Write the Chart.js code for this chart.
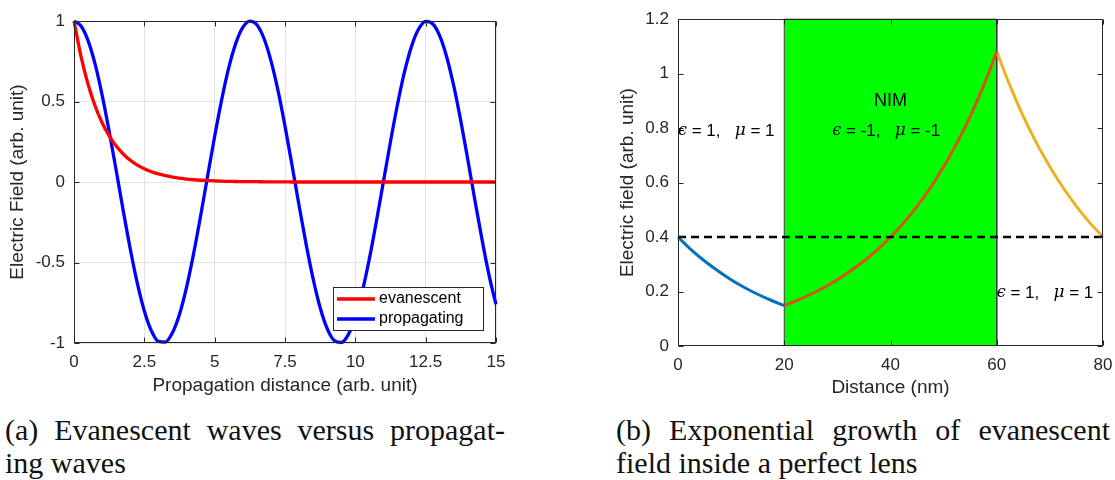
<!DOCTYPE html>
<html>
<head>
<meta charset="utf-8">
<title>Evanescent fields</title>
<script src="https://cdn.jsdelivr.net/npm/chart.js@4.4.1/dist/chart.umd.min.js"></script>
<style>
  body { margin: 0; background: #fff; width: 1115px; height: 480px; position: relative; overflow: hidden; }
  #waveChart { position: absolute; left: 0; top: 0; }
  #lensChart { position: absolute; left: 590px; top: 0; }
  .cap { position: absolute; font-family: "Liberation Serif", "Times New Roman", serif; font-size: 30px;
         line-height: 33px; color: #111; white-space: nowrap; }
  .cap.full { white-space: normal; text-align: justify; text-align-last: justify; }
</style>
</head>
<body>
<canvas id="waveChart" width="520" height="400"></canvas>
<canvas id="lensChart" width="540" height="400"></canvas>
<div class="cap full" style="left:5px; top:413px; width:500px">(a) Evanescent waves versus propagat-</div>
<div class="cap" style="left:5px; top:446px">ing waves</div>
<div class="cap full" style="left:616px; top:413px; width:494px">(b) Exponential growth of evanescent</div>
<div class="cap" style="left:616px; top:446px">field inside a perfect lens</div>
<script>
// ---- (a) evanescent vs propagating, sampled every 0.25 units ----
const distA = Array.from({ length: 61 }, (_, i) => i * 0.25)
const evanescent = [
  1.000, 0.779, 0.607, 0.472, 0.368, 0.287, 0.223, 0.174, 0.135, 0.105, 0.082, 0.064, 0.050, 0.039, 0.030, 0.024,
  0.018, 0.014, 0.011, 0.009, 0.007, 0.005, 0.004, 0.003, 0.002, 0.002, 0.002, 0.001, 0.001, 0.001, 0.001,
  0, 0, 0, 0, 0, 0, 0, 0, 0, 0, 0, 0, 0, 0, 0, 0, 0, 0, 0, 0, 0, 0, 0, 0, 0, 0, 0, 0, 0, 0
]
const propagating = [
  1.000, 0.969, 0.878, 0.732, 0.540, 0.315, 0.071, -0.178, -0.416, -0.628, -0.801, -0.924, -0.990, -0.994, -0.936, -0.821,
  -0.654, -0.446, -0.211, 0.038, 0.284, 0.512, 0.709, 0.861, 0.960, 0.999, 0.977, 0.893, 0.754, 0.569, 0.347, 0.104,
  -0.146, -0.386, -0.602, -0.781, -0.911, -0.985, -0.997, -0.948, -0.839, -0.678, -0.476, -0.243, 0.004, 0.252, 0.483, 0.685,
  0.844, 0.950, 0.998, 0.983, 0.907, 0.775, 0.595, 0.378, 0.137, -0.113, -0.355, -0.577, -0.760
]
const xTicksA = [0, 2.5, 5, 7.5, 10, 12.5, 15]
const yTicksA = [-1, -0.5, 0, 0.5, 1]

// ---- (b) field through a perfect lens (nm) ----
const leftX = [0, 2.5, 5, 7.5, 10, 12.5, 15, 17.5, 20]
const leftField = [0.400, 0.353, 0.312, 0.276, 0.243, 0.215, 0.190, 0.168, 0.148]
const nimX = [20, 22.5, 25, 27.5, 30, 32.5, 35, 37.5, 40, 42.5, 45, 47.5, 50, 52.5, 55, 57.5, 60]
const nimField = [0.148, 0.168, 0.190, 0.215, 0.243, 0.276, 0.312, 0.353, 0.400, 0.453, 0.513, 0.581,
  0.658, 0.745, 0.843, 0.955, 1.081]
const rightX = [60, 62.5, 65, 67.5, 70, 72.5, 75, 77.5, 80]
const rightField = [1.081, 0.955, 0.843, 0.745, 0.658, 0.581, 0.513, 0.453, 0.400]
const slabX = [20, 20, 60, 60]
const slabY = [0, 1.2, 1.2, 0]
const refX = [0, 80]
const refY = [0.4, 0.4]
const xTicksB = [0, 20, 40, 60, 80]
const yTicksB = [0, 0.2, 0.4, 0.6, 0.8, 1, 1.2]

const INK = '#262626'
const SANS = '"Liberation Sans", Arial, sans-serif'
Chart.defaults.font.family = SANS
Chart.defaults.color = INK

const pts = (xs, ys) => xs.map((x, i) => ({ x: x, y: ys[i] }))

// MATLAB-like frame: box around the plot with inward tick marks on all sides
const boxTicks = {
  id: 'boxTicks',
  afterDatasetsDraw(chart) {
    const { ctx, chartArea: a, scales: { x, y } } = chart
    const L = Math.round(a.left) + 0.5, R = Math.round(a.right) - 0.5
    const T = Math.round(a.top) + 0.5, B = Math.round(a.bottom) - 0.5
    ctx.save()
    ctx.strokeStyle = INK
    ctx.lineWidth = 1
    ctx.strokeRect(L, T, R - L, B - T)
    ctx.beginPath()
    x.ticks.forEach(t => {
      const px = Math.round(x.getPixelForValue(t.value)) + 0.5
      ctx.moveTo(px, B); ctx.lineTo(px, B - 5)
      ctx.moveTo(px, T); ctx.lineTo(px, T + 5)
    })
    y.ticks.forEach(t => {
      const py = Math.round(y.getPixelForValue(t.value)) + 0.5
      ctx.moveTo(L, py); ctx.lineTo(L + 5, py)
      ctx.moveTo(R, py); ctx.lineTo(R - 5, py)
    })
    ctx.stroke()
    ctx.restore()
  }
}

// legend box in the lower right corner of the plot
const cornerLegend = {
  id: 'cornerLegend',
  afterDraw(chart) {
    const { ctx, chartArea: a } = chart
    const w = 150, h = 43
    const bx = Math.round(a.right) - 13 - w, by = Math.round(a.bottom) - 13 - h
    ctx.save()
    ctx.fillStyle = '#fff'
    ctx.fillRect(bx, by, w, h)
    ctx.strokeStyle = INK
    ctx.lineWidth = 1
    ctx.strokeRect(bx + 0.5, by + 0.5, w, h)
    ctx.font = '16px ' + SANS
    ctx.textBaseline = 'middle'
    chart.data.datasets.forEach((ds, i) => {
      const ly = by + 12 + i * 20
      ctx.strokeStyle = ds.borderColor
      ctx.lineWidth = 3.5
      ctx.beginPath()
      ctx.moveTo(bx + 4, ly); ctx.lineTo(bx + 42, ly)
      ctx.stroke()
      ctx.fillStyle = '#000'
      ctx.fillText(ds.label, bx + 46, ly)
    })
    ctx.restore()
  }
}

// epsilon / mu notes and the NIM label
function drawPerm(ctx, px, py, eps, mu, align) {
  const parts = [
    ['\u03f5', 'italic 16px "DejaVu Serif", serif'],
    [' = ' + eps + ',   ', '17px ' + SANS],
    ['\u03bc', 'italic 17px "DejaVu Serif", serif'],
    [' = ' + mu, '17px ' + SANS]
  ]
  let total = 0
  parts.forEach(p => { ctx.font = p[1]; total += ctx.measureText(p[0]).width })
  let cx = align === 'center' ? px - total / 2 : px
  ctx.textAlign = 'left'
  parts.forEach(p => {
    ctx.font = p[1]
    ctx.fillText(p[0], cx, py)
    cx += ctx.measureText(p[0]).width
  })
}

const lensNotes = {
  id: 'lensNotes',
  afterDatasetsDraw(chart) {
    const { ctx, scales: { x, y } } = chart
    ctx.save()
    ctx.fillStyle = '#000'
    ctx.textBaseline = 'middle'
    ctx.font = '18px ' + SANS
    ctx.textAlign = 'center'
    ctx.fillText('NIM', x.getPixelForValue(40), y.getPixelForValue(0.9))
    drawPerm(ctx, x.getPixelForValue(39.2), y.getPixelForValue(0.79), '-1', '-1', 'center')
    drawPerm(ctx, x.getPixelForValue(0), y.getPixelForValue(0.79), '1', '1', 'left')
    drawPerm(ctx, x.getPixelForValue(60), y.getPixelForValue(0.195), '1', '1', 'left')
    ctx.restore()
  }
}

function axis(min, max, ticks, size, title, titlePad, grid) {
  return {
    type: 'linear',
    min: min,
    max: max,
    afterBuildTicks: s => { s.ticks = ticks.map(v => ({ value: v })) },
    afterFit: s => { if (s.isHorizontal()) s.height = size; else s.width = size },
    grid: grid ? { color: '#e3e3e3', drawTicks: false } : { display: false, drawTicks: false },
    border: { display: false },
    ticks: {
      color: INK, font: { size: 17 }, padding: 9, maxRotation: 0, autoSkip: false,
      callback: v => String(v)
    },
    title: { display: true, text: title, color: INK, font: { size: 19 }, padding: titlePad }
  }
}

new Chart(document.getElementById('waveChart'), {
  type: 'line',
  data: {
    datasets: [{
      label: 'evanescent',
      data: pts(distA, evanescent),
      borderColor: '#ff0000',
      borderWidth: 3.3
    }, {
      label: 'propagating',
      data: pts(distA, propagating),
      borderColor: '#0000ff',
      borderWidth: 3.3
    }]
  },
  options: {
    responsive: false,
    animation: false,
    layout: { autoPadding: false, padding: { top: 21, right: 24, left: 0, bottom: 0 } },
    elements: { point: { radius: 0 }, line: { cubicInterpolationMode: 'monotone' } },
    datasets: { line: { clip: false } },
    plugins: { legend: { display: false }, tooltip: { enabled: false } },
    scales: {
      x: axis(0, 15, xTicksA, 57, 'Propagation distance (arb. unit)', { top: 0, bottom: 3 }, true),
      y: axis(-1, 1, yTicksA, 74, 'Electric Field (arb. unit)', { top: 6, bottom: 0 }, true)
    }
  },
  plugins: [boxTicks, cornerLegend]
})

new Chart(document.getElementById('lensChart'), {
  type: 'line',
  data: {
    datasets: [{
      label: 'NIM slab',
      data: pts(slabX, slabY),
      backgroundColor: '#00ff00',
      borderColor: '#3a3a3a',
      borderWidth: 1,
      fill: 'origin',
      tension: 0,
      cubicInterpolationMode: 'default',
      order: 5
    }, {
      label: 'incident',
      data: pts(leftX, leftField),
      borderColor: '#0072bd',
      borderWidth: 3,
      order: 2
    }, {
      label: 'inside lens',
      data: pts(nimX, nimField),
      borderColor: '#d95319',
      borderWidth: 3,
      order: 2
    }, {
      label: 'transmitted',
      data: pts(rightX, rightField),
      borderColor: '#edb120',
      borderWidth: 3,
      order: 2
    }, {
      label: 'reference',
      data: pts(refX, refY),
      borderColor: '#000',
      borderWidth: 2.5,
      borderDash: [8, 5],
      order: 1
    }]
  },
  options: {
    responsive: false,
    animation: false,
    layout: { autoPadding: false, padding: { top: 19, right: 27, left: 0, bottom: 0 } },
    elements: { point: { radius: 0 }, line: { cubicInterpolationMode: 'monotone' } },
    datasets: { line: { clip: false } },
    plugins: { legend: { display: false }, tooltip: { enabled: false } },
    scales: {
      x: axis(0, 80, xTicksB, 54, 'Distance (nm)', { top: 0, bottom: 1 }, false),
      y: axis(0, 1.2, yTicksB, 88, 'Electric field (arb. unit)', { top: 26, bottom: 0 }, false)
    }
  },
  plugins: [boxTicks, lensNotes]
})
</script>
</body>
</html>
